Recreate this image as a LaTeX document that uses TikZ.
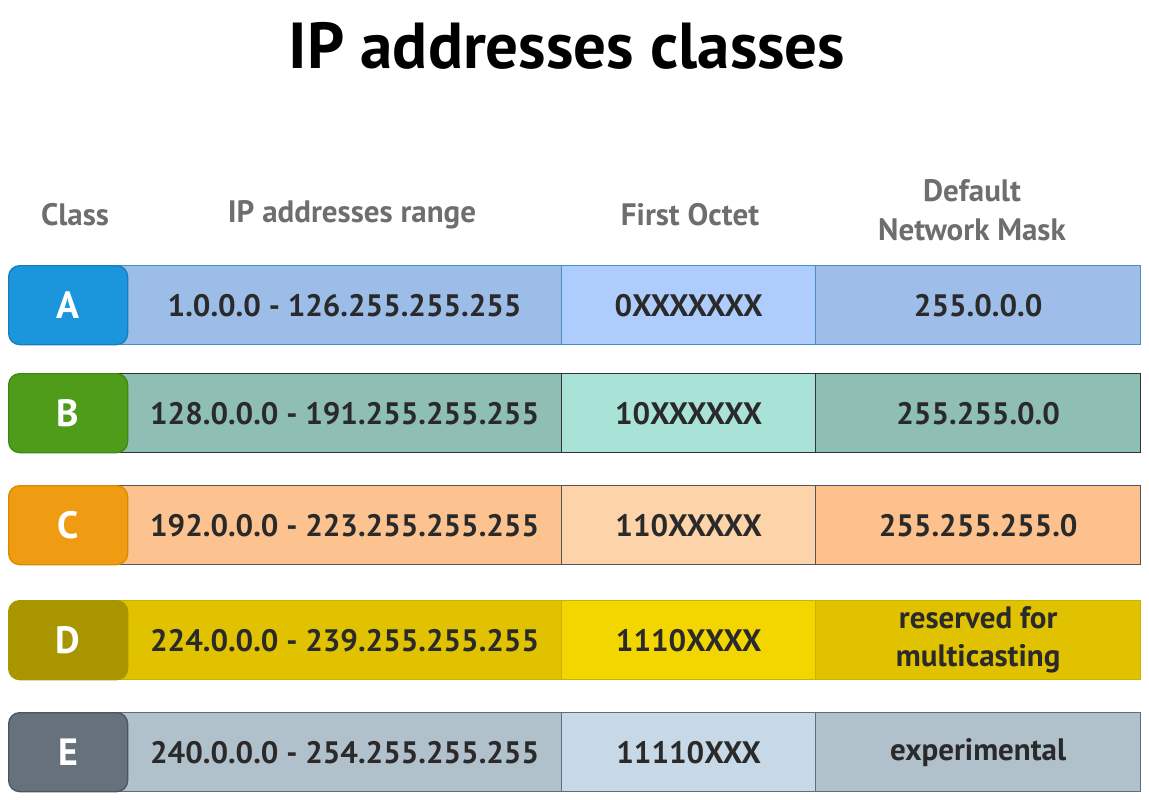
\documentclass[tikz,border=0pt]{standalone}
\usepackage{fontspec}
\setmainfont{PT Sans}
\definecolor{txt}{HTML}{2A2A2A}
\definecolor{hdr}{HTML}{6E6E6E}
\definecolor{Abadge}{HTML}{1B95DC}\definecolor{Abl}{HTML}{1A7CC0}
\definecolor{Arange}{HTML}{9DBDE9}\definecolor{Aoct}{HTML}{AECDFC}\definecolor{Amask}{HTML}{9EBDE8}\definecolor{Aline}{HTML}{4A8EC6}
\definecolor{Bbadge}{HTML}{4F9C1B}\definecolor{Bbl}{HTML}{3D8A10}
\definecolor{Brange}{HTML}{8FBFB4}\definecolor{Boct}{HTML}{A9E3D8}\definecolor{Bmask}{HTML}{8FBFB4}\definecolor{Bline}{HTML}{333333}
\definecolor{Cbadge}{HTML}{F09C12}\definecolor{Cbl}{HTML}{D88A00}
\definecolor{Crange}{HTML}{FCC290}\definecolor{Coct}{HTML}{FDD3A9}\definecolor{Cmask}{HTML}{FCC18D}\definecolor{Cline}{HTML}{555555}
\definecolor{Dbadge}{HTML}{A99500}\definecolor{Dbl}{HTML}{A99500}
\definecolor{Drange}{HTML}{E0C200}\definecolor{Doct}{HTML}{F3D500}\definecolor{Dmask}{HTML}{E0C200}\definecolor{Dline}{HTML}{C9B300}
\definecolor{Ebadge}{HTML}{66717C}\definecolor{Ebl}{HTML}{4A5560}
\definecolor{Erange}{HTML}{B1C1CC}\definecolor{Eoct}{HTML}{C7D9E7}\definecolor{Emask}{HTML}{B1C1CC}\definecolor{Eline}{HTML}{5A6E80}
\tikzset{
  cell/.style={rectangle, draw, line width=1.3pt, inner sep=0pt, anchor=north west,
    minimum height=79pt, align=center, text=txt,
    font=\bfseries\fontsize{31}{38}\selectfont},
  badge/.style={rectangle, rounded corners=11pt, draw, line width=1.3pt, inner sep=0pt,
    anchor=north west, minimum width=119pt, minimum height=79pt, text=white,
    font=\bfseries\fontsize{38}{40}\selectfont},
  header/.style={text=hdr, align=center, font=\bfseries\fontsize{31}{39}\selectfont},
  title/.style={text=black, font=\bfseries\fontsize{65}{68}\selectfont}
}
\newcommand\IProw[6]{%
  \node[cell, fill=#1range, draw=#1line, minimum width=447pt] (#1r) at (114,#2) {\hspace*{13pt}#4};
  \node[cell, fill=#1oct, draw=#1line, minimum width=254pt] (#1o) at (561,#2) {#5};
  \node[cell, fill=#1mask, draw=#1line, minimum width=325pt] (#1m) at (815,#2) {#6};
  \node[badge, fill=#1badge, draw=#1bl] (#1b) at (8,#2) {#3};
}
\begin{document}
\begin{tikzpicture}[x=1pt,y=-1pt]
  \useasboundingbox (0,0) rectangle (1149,800);
  \node[title] (t) at (567,46) {IP addresses classes};
  \node[header] (h1) at (75,215) {Class};
  \node[header] (h2) at (352,215) {IP addresses range};
  \node[header] (h3) at (690,215) {First Octet};
  \node[header] (h4) at (972,210) {Default\\Network Mask};
  \IProw{A}{265}{A}{1.0.0.0 - 126.255.255.255}{0XXXXXXX}{255.0.0.0}
  \IProw{B}{373}{B}{128.0.0.0 - 191.255.255.255}{10XXXXXX}{255.255.0.0}
  \IProw{C}{485}{C}{192.0.0.0 - 223.255.255.255}{110XXXXX}{255.255.255.0}
  \IProw{D}{600}{D}{224.0.0.0 - 239.255.255.255}{1110XXXX}{reserved for\\multicasting}
  \IProw{E}{712}{E}{240.0.0.0 - 254.255.255.255}{11110XXX}{experimental}
\end{tikzpicture}
\end{document}
